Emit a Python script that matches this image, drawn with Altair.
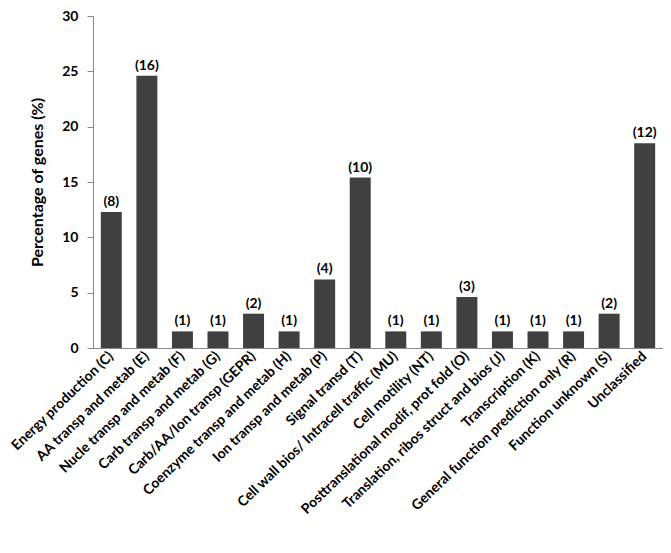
import altair as alt
import pandas as pd

categories = [
    "Energy production (C)",
    "AA transp and metab (E)",
    "Nucle transp and metab (F)",
    "Carb transp and metab (G)",
    "Carb/AA/Ion transp (GEPR)",
    "Coenzyme transp and metab (H)",
    "Ion transp and metab (P)",
    "Signal transd (T)",
    "Cell wall bios/ Intracell traffic (MU)",
    "Cell motility (NT)",
    "Posttranslational modif, prot fold (O)",
    "Translation, ribos struct and bios (J)",
    "Transcription (K)",
    "General function prediction only (R)",
    "Function unknown (S)",
    "Unclassified",
]
percentages = [12.3, 24.6, 1.5, 1.5, 3.1, 1.5, 6.2, 15.4, 1.5, 1.5, 4.6, 1.5, 1.5, 1.5, 3.1, 18.5]
counts = [8, 16, 1, 1, 2, 1, 4, 10, 1, 1, 3, 1, 1, 1, 2, 12]

df = pd.DataFrame({
    "category": categories,
    "pct": percentages,
    "label": [f"({c})" for c in counts],
})

FONT = "Lato"

x = alt.X(
    "category:N",
    sort=categories,
    scale=alt.Scale(paddingInner=0.41, paddingOuter=0.22),
    axis=alt.Axis(
        title=None,
        labelAngle=-44,
        labelAlign="right",
        labelBaseline="middle",
        labelFont=FONT,
        labelFontWeight="bold",
        labelFontSize=14,
        labelColor="black",
        labelPadding=6,
        ticks=False,
        domainColor="#888888",
        labelLimit=400,
    ),
)

bars = alt.Chart(df).mark_bar(color="#404040").encode(
    x=x,
    y=alt.Y(
        "pct:Q",
        scale=alt.Scale(domain=[0, 30]),
        axis=alt.Axis(
            title="Percentage of genes (%)",
            titleFont=FONT,
            titleFontWeight="bold",
            titleFontSize=16,
            titleColor="black",
            titlePadding=16,
            values=[0, 5, 10, 15, 20, 25, 30],
            labelFont=FONT,
            labelFontWeight="bold",
            labelFontSize=14,
            labelColor="black",
            labelPadding=9,
            tickSize=6,
            tickColor="#888888",
            domainColor="#888888",
            grid=False,
        ),
    ),
)

text = alt.Chart(df).mark_text(
    font=FONT, fontWeight="bold", fontSize=14, dy=-10, color="black"
).encode(x=alt.X("category:N", sort=categories), y="pct:Q", text="label:N")

chart = (
    alt.layer(bars, text)
    .properties(
        width=570,
        height=332,
        autosize=alt.AutoSizeParams(type="none"),
        padding={"left": 85, "top": 8, "right": 0, "bottom": 190},
    )
    .configure_view(stroke=None)
)

chart.save("out.html", embed_options={"renderer": "svg", "actions": False})
